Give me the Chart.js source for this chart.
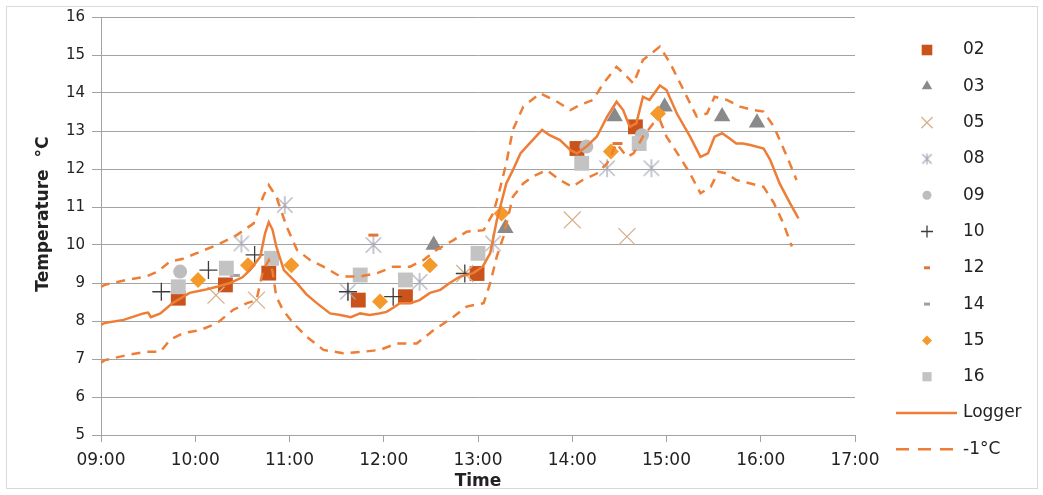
<!DOCTYPE html>
<html>
<head>
<meta charset="utf-8">
<script src="https://cdn.jsdelivr.net/npm/chart.js@4.4.1/dist/chart.umd.min.js"></script>
<style>
  html, body { margin: 0; padding: 0; background: #fff; }
  #wrap { position: relative; width: 1043px; height: 495px; }
  #frame { position: absolute; left: 6px; top: 6px; width: 1030px; height: 481px; border: 1px solid #d9d9d9; pointer-events: none; }
  canvas { position: absolute; left: 0; top: 0; }
</style>
</head>
<body>
<div id="wrap">
  <canvas id="myChart" width="1043" height="495"></canvas>
  <div id="frame"></div>
</div>
<script>
// time in decimal hours, temperature in °C
const timeTicks = ['09:00', '10:00', '11:00', '12:00', '13:00', '14:00', '15:00', '16:00', '17:00'];

const loggerTime = [9.0, 9.04, 9.24, 9.45, 9.5, 9.53, 9.63, 9.76, 9.94, 10.1, 10.23, 10.37, 10.5, 10.58, 10.69, 10.74, 10.78, 10.82, 10.86, 10.94, 11.08, 11.18, 11.29, 11.43, 11.54, 11.65, 11.75, 11.85, 11.95, 12.03, 12.1, 12.17, 12.28, 12.38, 12.49, 12.6, 12.7, 12.81, 12.95, 13.05, 13.13, 13.2, 13.3, 13.37, 13.45, 13.55, 13.68, 13.76, 13.87, 13.98, 14.05, 14.15, 14.26, 14.37, 14.47, 14.54, 14.61, 14.68, 14.75, 14.82, 14.93, 15.0, 15.11, 15.25, 15.36, 15.44, 15.51, 15.59, 15.67, 15.74, 15.81, 15.89, 16.03, 16.1, 16.2, 16.31, 16.4];
const loggerTemp = [7.9, 7.95, 8.03, 8.2, 8.22, 8.1, 8.2, 8.47, 8.74, 8.82, 8.9, 9.0, 9.15, 9.34, 9.69, 10.3, 10.6, 10.4, 9.96, 9.34, 8.99, 8.7, 8.47, 8.2, 8.16, 8.1, 8.2, 8.16, 8.2, 8.24, 8.35, 8.47, 8.47, 8.55, 8.74, 8.82, 9.0, 9.17, 9.26, 9.43, 9.79, 10.66, 11.62, 11.97, 12.41, 12.68, 13.03, 12.89, 12.76, 12.5, 12.41, 12.59, 12.85, 13.38, 13.77, 13.55, 13.11, 13.2, 13.9, 13.82, 14.2, 14.08, 13.46, 12.85, 12.32, 12.41, 12.85, 12.94, 12.8, 12.67, 12.67, 12.63, 12.54, 12.24, 11.62, 11.1, 10.7];

const upperTime = [9.0, 9.04, 9.27, 9.48, 9.6, 9.73, 9.87, 10.05, 10.23, 10.44, 10.62, 10.72, 10.78, 10.86, 10.97, 11.08, 11.22, 11.36, 11.54, 11.75, 11.93, 12.1, 12.28, 12.42, 12.56, 12.74, 12.88, 13.06, 13.16, 13.22, 13.3, 13.37, 13.48, 13.66, 13.84, 13.98, 14.08, 14.22, 14.33, 14.47, 14.58, 14.65, 14.75, 14.93, 15.04, 15.18, 15.32, 15.43, 15.51, 15.64, 15.78, 15.92, 16.03, 16.14, 16.28, 16.38];
const upperTemp = [8.9, 8.95, 9.08, 9.17, 9.3, 9.56, 9.64, 9.82, 10.0, 10.26, 10.57, 11.27, 11.58, 11.27, 10.48, 9.87, 9.6, 9.43, 9.17, 9.17, 9.26, 9.43, 9.43, 9.6, 9.87, 10.13, 10.35, 10.39, 10.83, 11.35, 12.15, 13.03, 13.64, 13.99, 13.77, 13.55, 13.68, 13.82, 14.25, 14.69, 14.43, 14.25, 14.87, 15.22, 14.78, 14.08, 13.38, 13.46, 13.9, 13.82, 13.64, 13.55, 13.51, 13.11, 12.32, 11.71];

const lowerTime = [9.0, 9.04, 9.27, 9.48, 9.63, 9.73, 9.87, 10.05, 10.23, 10.4, 10.55, 10.65, 10.72, 10.78, 10.82, 10.86, 10.93, 11.04, 11.18, 11.36, 11.57, 11.78, 11.96, 12.14, 12.35, 12.53, 12.74, 12.88, 13.06, 13.13, 13.2, 13.27, 13.37, 13.48, 13.58, 13.73, 13.87, 14.0, 14.11, 14.26, 14.37, 14.47, 14.58, 14.65, 14.75, 14.86, 14.93, 15.0, 15.14, 15.25, 15.36, 15.47, 15.55, 15.64, 15.74, 15.89, 16.03, 16.14, 16.24, 16.33];
const lowerTemp = [6.9, 6.97, 7.1, 7.19, 7.19, 7.5, 7.68, 7.76, 7.94, 8.29, 8.47, 8.55, 9.34, 9.6, 9.3, 8.64, 8.29, 7.94, 7.59, 7.24, 7.15, 7.19, 7.24, 7.41, 7.41, 7.76, 8.11, 8.38, 8.47, 9.0, 9.7, 10.22, 11.27, 11.62, 11.8, 11.97, 11.71, 11.53, 11.71, 11.88, 12.15, 12.67, 12.32, 12.41, 12.85, 13.2, 13.29, 12.85, 12.32, 11.88, 11.36, 11.53, 11.93, 11.88, 11.71, 11.62, 11.53, 11.1, 10.57, 9.96];

// spot readings [time, temp]
const sensor02 = [[9.82, 8.6], [10.32, 8.95], [10.78, 9.26], [11.73, 8.55], [12.23, 8.64], [12.99, 9.25], [14.05, 12.54], [14.67, 13.11]];
const sensor03 = [[12.53, 10.0], [13.29, 10.44], [14.45, 13.38], [14.98, 13.64], [15.59, 13.38], [15.96, 13.22]];
const sensor05 = [[10.22, 8.68], [10.65, 8.55], [12.86, 9.25], [14.0, 10.66], [14.58, 10.22]];
const sensor08 = [[10.49, 10.04], [10.95, 11.05], [11.62, 8.77], [11.89, 10.0], [12.38, 9.03], [13.16, 10.04], [14.37, 12.02], [14.84, 12.02]];
const sensor09 = [[9.84, 9.3], [14.15, 12.59], [14.74, 12.89]];
const sensor10 = [[9.64, 8.77], [10.14, 9.34], [10.63, 9.74], [11.62, 8.77], [12.1, 8.64], [12.86, 9.25]];
const sensor12 = [[11.89, 10.26], [14.48, 12.67]];
const sensor14 = [[10.42, 9.2]];
const sensor15 = [[10.03, 9.08], [10.56, 9.47], [11.02, 9.47], [11.96, 8.51], [12.49, 9.47], [13.25, 10.83], [14.41, 12.46], [14.91, 13.46]];
const sensor16 = [[9.82, 8.9], [10.33, 9.39], [10.81, 9.65], [11.75, 9.21], [12.23, 9.08], [13.0, 9.78], [14.1, 12.15], [14.71, 12.67]];

const lineColor = '#ee7d35';

// excel style asterisk: an x with a vertical bar
function asterisk(size, color) {
  const c = document.createElement('canvas');
  c.width = size; c.height = size;
  const g = c.getContext('2d');
  const m = size / 2, r = size / 2 - 1;
  g.strokeStyle = color;
  g.lineWidth = 1.3;
  g.beginPath();
  g.moveTo(m, m - r); g.lineTo(m, m + r);
  g.moveTo(m - r * 0.85, m - r * 0.85); g.lineTo(m + r * 0.85, m + r * 0.85);
  g.moveTo(m + r * 0.85, m - r * 0.85); g.lineTo(m - r * 0.85, m + r * 0.85);
  g.stroke();
  return c;
}

const pts = arr => arr.map(p => ({ x: p[0], y: p[1] }));
const linePts = (t, v) => t.map((x, i) => ({ x: x, y: v[i] }));

const markers = [
  { label: '02', data: sensor02, style: 'rect', r: 10.5, lr: 7.5, color: '#c9531a' },
  { label: '03', data: sensor03, style: 'triangle', r: 9.5, lr: 6, color: '#8a8a8a' },
  { label: '05', data: sensor05, style: 'crossRot', r: 12, lr: 8, color: '#d8b08a', bw: 1.3 },
  { label: '08', data: sensor08, style: asterisk(20, '#a8aab8'), legendStyle: asterisk(13, '#a8aab8'), r: 10, lr: 6, color: '#a8aab8' },
  { label: '09', data: sensor09, style: 'circle', r: 7, lr: 4.5, color: '#bdbdbd' },
  { label: '10', data: sensor10, style: 'cross', r: 9, lr: 6, color: '#3c3c3c', bw: 1.3 },
  { label: '12', data: sensor12, style: 'line', r: 5, lr: 3, color: '#e0773a', bw: 3 },
  { label: '14', data: sensor14, style: 'line', r: 5, lr: 3, color: '#a0a0a0', bw: 3 },
  { label: '15', data: sensor15, style: 'rectRot', r: 8, lr: 5, color: '#f39a2a' },
  { label: '16', data: sensor16, style: 'rect', r: 10.5, lr: 6.5, color: '#c3c3c3' }
];

const datasets = markers.map(m => ({
  type: 'scatter',
  label: m.label,
  data: pts(m.data),
  pointStyle: m.style,
  pointRadius: m.r,
  backgroundColor: m.color,
  borderColor: m.color,
  pointBorderWidth: m.bw || 0,
  showLine: false
}));

datasets.push({
  type: 'line', label: 'Logger', data: linePts(loggerTime, loggerTemp),
  borderColor: lineColor, borderWidth: 2.5, pointRadius: 0, tension: 0, fill: false
});
datasets.push({
  type: 'line', label: '-1°C', data: linePts(lowerTime, lowerTemp),
  borderColor: lineColor, borderWidth: 2.5, borderDash: [9, 7], pointRadius: 0, tension: 0, fill: false
});
datasets.push({
  type: 'line', label: '+1°C', data: linePts(upperTime, upperTemp),
  borderColor: lineColor, borderWidth: 2.5, borderDash: [9, 7], pointRadius: 0, tension: 0, fill: false
});

// later series on top, like the spreadsheet
datasets.forEach((d, i) => { d.order = datasets.length - i; });

const legendPlugin = {
  id: 'sideLegend',
  afterDraw(chart) {
    const ctx = chart.ctx;
    const x0 = 927, textX = 963, y0 = 50, step = 36.3;
    ctx.save();
    ctx.font = '17px "DejaVu Sans", Verdana, sans-serif';
    ctx.textBaseline = 'middle';
    ctx.fillStyle = '#222';
    markers.forEach((m, i) => {
      const y = y0 + i * step;
      ctx.fillStyle = m.color;
      ctx.strokeStyle = m.color;
      ctx.lineWidth = m.bw || 0;
      Chart.helpers.drawPoint(ctx, { pointStyle: m.legendStyle || m.style, radius: m.lr, borderWidth: m.bw || 0, rotation: 0 }, x0, y);
      ctx.fillStyle = '#222';
      ctx.fillText(m.label, textX, y);
    });
    const yl = y0 + markers.length * step;
    ctx.strokeStyle = lineColor;
    ctx.lineWidth = 2.5;
    ctx.beginPath(); ctx.moveTo(896, yl); ctx.lineTo(957, yl); ctx.stroke();
    ctx.fillText('Logger', textX, yl);
    const yd = yl + step;
    ctx.setLineDash([13, 9]);
    ctx.beginPath(); ctx.moveTo(896, yd); ctx.lineTo(957, yd); ctx.stroke();
    ctx.setLineDash([]);
    ctx.fillText('-1°C', textX, yd);
    ctx.restore();
  }
};

const grey = '#a3a3a3';
const ctx = document.getElementById('myChart').getContext('2d');

new Chart(ctx, {
  type: 'scatter',
  data: { datasets: datasets },
  plugins: [legendPlugin],
  options: {
    responsive: false,
    animation: false,
    layout: { padding: { left: 0, top: 17, right: 188, bottom: 0 } },
    plugins: { legend: { display: false }, tooltip: { enabled: false } },
    scales: {
      x: {
        type: 'linear',
        min: 9,
        max: 17,
        afterFit: s => { s.height = 60; },
        ticks: {
          stepSize: 1,
          padding: 8,
          color: '#222',
          font: { family: '"DejaVu Sans", Verdana, sans-serif', size: 17 },
          callback: v => timeTicks[Math.round(v - 9)]
        },
        grid: { drawOnChartArea: false, drawTicks: true, tickLength: 7, color: grey },
        border: { color: grey },
        title: {
          display: true, text: 'Time', color: '#222', padding: { top: 0, bottom: 3 },
          font: { family: '"DejaVu Sans", Verdana, sans-serif', size: 17, weight: 'bold' }
        }
      },
      y: {
        min: 5,
        max: 16,
        afterFit: s => { s.width = 101; },
        ticks: {
          stepSize: 1,
          padding: 7,
          color: '#222',
          font: { family: '"DejaVu Sans", Verdana, sans-serif', size: 15 }
        },
        grid: { color: grey, tickLength: 9 },
        border: { color: grey },
        title: {
          display: true, text: '    Temperature  °C', color: '#222', padding: { top: 33, bottom: 0 },
          font: { family: '"DejaVu Sans", Verdana, sans-serif', size: 17, weight: 'bold' }
        }
      }
    }
  }
});
</script>
</body>
</html>
